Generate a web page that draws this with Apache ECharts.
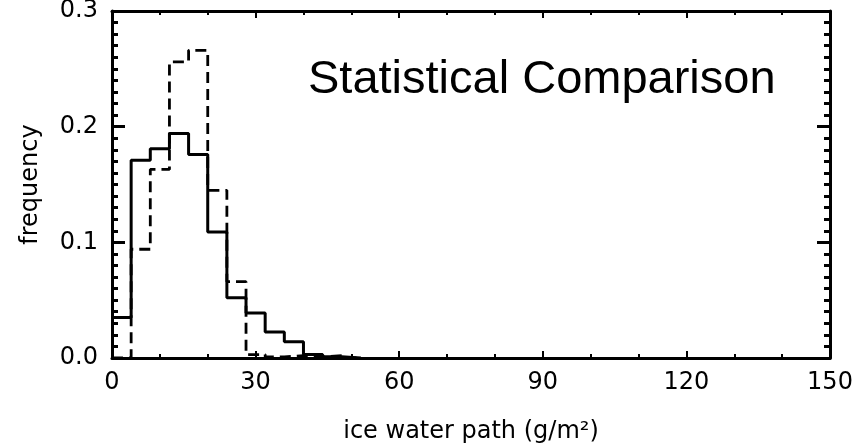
<!DOCTYPE html>
<html>
<head>
<meta charset="utf-8">
<script src="https://cdn.jsdelivr.net/npm/echarts@6/dist/echarts.min.js"></script>
<style>
  html, body { margin: 0; padding: 0; background: #fff; }
  #chart { width: 859px; height: 446px; }
</style>
</head>
<body>
<div id="chart"></div>
<script>
// Histogram bin left edges (g/m^2), bin width 4
const binEdges = [0, 4, 8, 12, 16, 20, 24, 28, 32, 36, 40, 44, 48];
// Frequencies per bin: solid histogram
const solidFreq = [0.035, 0.171, 0.181, 0.194, 0.176, 0.109, 0.052, 0.039, 0.0225, 0.014, 0.003, 0.001, 0.0];
// Frequencies per bin: dashed histogram
const dashedFreq = [0.0, 0.094, 0.163, 0.256, 0.266, 0.145, 0.066, 0.003, 0.001, 0.002, 0.001, 0.002, 0.0];
const xTicks = [0, 30, 60, 90, 120, 150];
const yTicks = [0.0, 0.1, 0.2, 0.3];

const binWidth = binEdges[1] - binEdges[0];

function stepData(freq) {
  const pts = binEdges.map((e, i) => [e, freq[i]]);
  const last = binEdges[binEdges.length - 1];
  pts.push([last + binWidth, freq[freq.length - 1]]);
  return pts;
}

const labelFont = { fontFamily: 'DejaVu Sans', fontSize: 24, color: '#000' };
const axisLineStyle = { show: true, onZero: false, lineStyle: { color: '#000', width: 3 } };

const chart = echarts.init(document.getElementById('chart'), null, { renderer: 'canvas' });
chart.setOption({
  backgroundColor: '#fff',
  animation: false,
  grid: { left: 112, right: 29, top: 11, bottom: 88, containLabel: false, outerBoundsMode: 'none' },
  xAxis: [
    {
      type: 'value', position: 'bottom',
      min: xTicks[0], max: xTicks[xTicks.length - 1], interval: 30,
      axisLine: axisLineStyle,
      axisTick: { show: true, inside: true, length: 7, lineStyle: { color: '#000', width: 2 } },
      minorTick: { show: true, splitNumber: 3, length: 4, lineStyle: { color: '#000', width: 2 } },
      splitLine: { show: false },
      axisLabel: Object.assign({ margin: 13 }, labelFont),
      name: 'ice water path (g/m²)', nameLocation: 'middle', nameGap: 62,
      nameTextStyle: labelFont
    },
    {
      type: 'value', position: 'top',
      min: xTicks[0], max: xTicks[xTicks.length - 1], interval: 30,
      axisLine: axisLineStyle,
      axisTick: { show: true, inside: true, length: 7, lineStyle: { color: '#000', width: 2 } },
      minorTick: { show: true, splitNumber: 3, length: 4, lineStyle: { color: '#000', width: 2 } },
      splitLine: { show: false },
      axisLabel: { show: false }
    }
  ],
  yAxis: [
    {
      type: 'value', position: 'left',
      min: yTicks[0], max: yTicks[yTicks.length - 1], interval: 0.1,
      axisLine: axisLineStyle,
      axisTick: { show: true, inside: true, length: 13, lineStyle: { color: '#000', width: 3 } },
      minorTick: { show: true, splitNumber: 10, length: 6, lineStyle: { color: '#000', width: 3 } },
      splitLine: { show: false },
      axisLabel: Object.assign({ margin: 14, formatter: v => v.toFixed(1) }, labelFont),
      name: 'frequency', nameLocation: 'middle', nameGap: 69, nameRotate: 90,
      nameTextStyle: labelFont
    },
    {
      type: 'value', position: 'right',
      min: yTicks[0], max: yTicks[yTicks.length - 1], interval: 0.1,
      axisLine: axisLineStyle,
      axisTick: { show: true, inside: true, length: 13, lineStyle: { color: '#000', width: 3 } },
      minorTick: { show: true, splitNumber: 10, length: 6, lineStyle: { color: '#000', width: 3 } },
      splitLine: { show: false },
      axisLabel: { show: false }
    }
  ],
  graphic: [
    {
      type: 'text', left: 308, top: 57, z: 10,
      style: {
        text: 'Statistical Comparison',
        font: '47px "Liberation Sans", Arial, sans-serif',
        fill: '#000'
      }
    }
  ],
  series: [
    {
      type: 'line', step: 'end', xAxisIndex: 0, yAxisIndex: 0,
      data: stepData(dashedFreq), symbol: 'none',
      lineStyle: { color: '#000', width: 2.8, type: [11, 6] }
    },
    {
      type: 'line', step: 'end', xAxisIndex: 0, yAxisIndex: 0,
      data: stepData(solidFreq), symbol: 'none',
      lineStyle: { color: '#000', width: 3 }
    }
  ]
});
</script>
</body>
</html>
